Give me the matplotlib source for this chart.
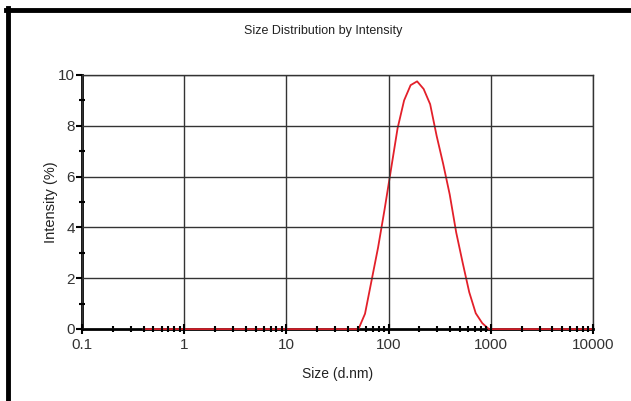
import numpy as np
import matplotlib
matplotlib.use("Agg")
import matplotlib.pyplot as plt
from matplotlib.lines import Line2D
from matplotlib.ticker import LogLocator, FixedLocator, NullFormatter

# size bins (d.nm) and intensity (%)
sizes = [0.4, 37.84, 43.82, 50.75, 58.77, 68.06, 78.82, 91.28, 105.7, 122.4,
         141.8, 164.2, 190.1, 220.2, 255.0, 295.3, 342.0, 396.1, 458.7,
         531.2, 615.1, 712.4, 825.0, 955.4, 1106, 10000]
intensity = [0, 0, 0, 0, 0.6, 1.9, 3.2, 4.7, 6.3, 7.9,
             9.0, 9.6, 9.75, 9.45, 8.85, 7.6, 6.5, 5.3, 3.8,
             2.6, 1.45, 0.62, 0.23, 0, 0, 0]

x_ticks = [0.1, 1, 10, 100, 1000, 10000]
x_labels = ["0.1", "1", "10", "100", "1000", "10000"]
y_ticks = [0, 2, 4, 6, 8, 10]

plt.rcParams['font.family'] = ['Liberation Sans Narrow', 'Liberation Sans', 'DejaVu Sans']

fig = plt.figure(figsize=(6.31, 4.01), dpi=100)
ax = fig.add_axes([82 / 631, 1 - 329 / 401, (593 - 82) / 631, (329 - 75) / 401])

ax.plot(sizes, intensity, color='#e3202a', lw=1.3, zorder=4.5, clip_on=False)

ax.set_xscale('log')
ax.set_xlim(0.1, 10000)
ax.set_ylim(0, 10)

ax.set_xticks(x_ticks)
ax.set_xticklabels(x_labels)
ax.xaxis.set_minor_locator(LogLocator(base=10, subs=np.arange(2, 10)))
ax.xaxis.set_minor_formatter(NullFormatter())
ax.set_yticks(y_ticks)
ax.yaxis.set_minor_locator(FixedLocator([1, 3, 5, 7, 9]))

ax.grid(True, which='major', color='#333333', lw=1.0)

for s in ['left', 'bottom']:
    ax.spines[s].set_linewidth(2)
    ax.spines[s].set_color('black')
    ax.spines[s].set_zorder(4)
for s in ['top', 'right']:
    ax.spines[s].set_linewidth(1.0)
    ax.spines[s].set_color('#333333')
ax.xaxis.set_zorder(5)
ax.yaxis.set_zorder(5)

ax.tick_params(axis='x', which='major', direction='inout', length=7, width=1.5,
               labelsize=11, pad=3, colors='black', labelcolor='#333333')
ax.tick_params(axis='x', which='minor', direction='inout', length=5, width=1.5, colors='black')
ax.tick_params(axis='y', which='major', direction='out', length=4, width=1.5,
               labelsize=11, pad=1, colors='black', labelcolor='#333333')
ax.tick_params(axis='y', which='minor', direction='inout', length=5, width=1.5, colors='black')

ax.set_xlabel('Size (d.nm)', fontsize=10, color='#222222', labelpad=11)
ax.set_ylabel('Intensity (%)', fontsize=10.5, color='#222222')
ax.yaxis.set_label_coords(-24 / 511, 0.5)
fig.text(323 / 631, 1 - 31 / 401, 'Size Distribution by Intensity', fontsize=9,
         color='#222222', ha='center', va='center')

# outer frame (top and left edges)
fig.add_artist(Line2D([6 / 631, 1], [1 - 10 / 401, 1 - 10 / 401], color='black', lw=3.5,
                      transform=fig.transFigure))
fig.add_artist(Line2D([8 / 631, 8 / 631], [0, 1 - 8 / 401], color='black', lw=3.5,
                      transform=fig.transFigure))

fig.savefig('out.png', dpi=100)
